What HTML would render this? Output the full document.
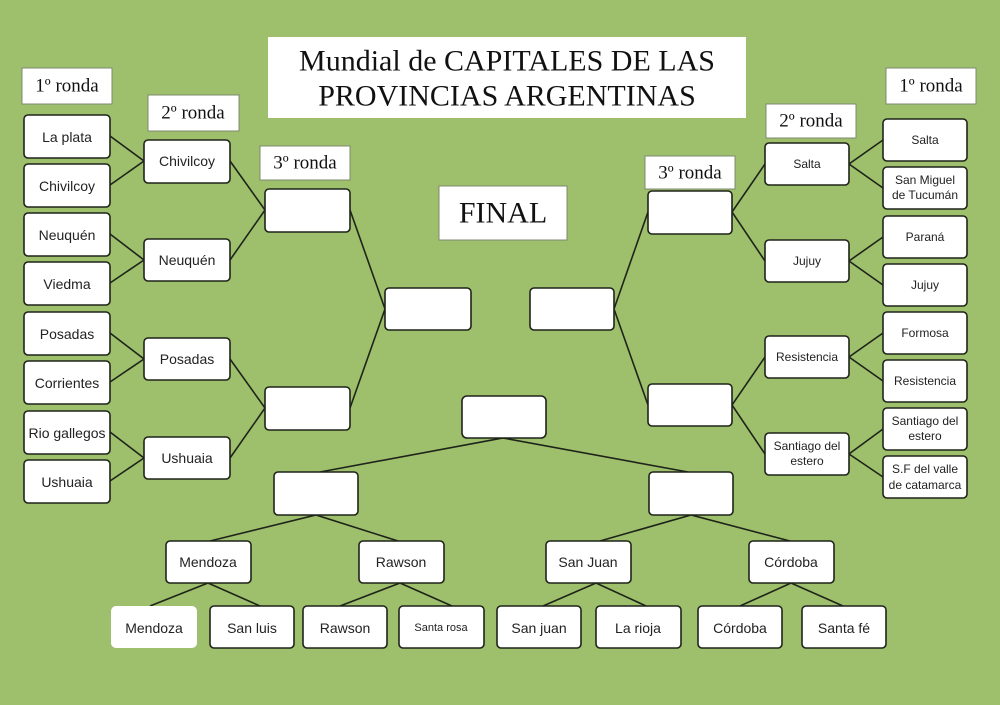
<!DOCTYPE html>
<html><head><meta charset="utf-8"><style>
html,body{margin:0;padding:0;background:#9ebf6b;}
svg{display:block}
.b{fill:#fff;stroke:#1e241a;stroke-width:1.6}
.h{fill:#fff;stroke:#7c8a6e;stroke-width:1}
.l{stroke:#1e241a;stroke-width:1.6;fill:none}
.t{font-family:"Liberation Sans",sans-serif;font-size:14px;fill:#222;text-anchor:middle;dominant-baseline:central}
.s{font-size:12px}
.r{font-family:"Liberation Serif",serif;font-size:19px;fill:#111;text-anchor:middle;dominant-baseline:central}
</style></head><body>
<svg width="1000" height="705" xmlns="http://www.w3.org/2000/svg">
<rect width="1000" height="705" fill="#9ebf6b"/>
<!-- connectors -->
<g class="l">
<path d="M110 136L144 161L110 185M110 234L144 260L110 283M110 333L144 359L110 382M110 432L144 458L110 481"/>
<path d="M230 161L265 210L230 260M230 359L265 408L230 458M350 210L385 309L350 408"/>
<path d="M883 140L849 164L883 188M883 237L849 261L883 285M883 333L849 357L883 381M883 429L849 454L883 477"/>
<path d="M765 164L732 212L765 261M765 357L732 405L765 454M648 212L614 309L648 405"/>
<path d="M320 472L503 438L688 472"/>
<path d="M210 541L316 515L398 541M600 541L691 515L790 541"/>
<path d="M150 606L208 583L260 606M340 606L400 583L452 606M543 606L596 583L646 606M740 606L791 583L843 606"/>
</g>
<!-- title -->
<rect x="268" y="37" width="478" height="81" fill="#fff"/>
<text class="r" x="507" y="61" style="font-size:30px">Mundial de CAPITALES DE LAS</text>
<text class="r" x="507" y="96" style="font-size:30px">PROVINCIAS ARGENTINAS</text>
<rect class="h" x="439" y="186" width="128" height="54"/>
<text class="r" x="503" y="213" style="font-size:30px">FINAL</text>
<!-- headers -->
<rect class="h" x="22" y="68" width="90" height="36"/><text class="r" x="67" y="86">1º ronda</text>
<rect class="h" x="148" y="95" width="91" height="36"/><text class="r" x="193" y="113">2º ronda</text>
<rect class="h" x="260" y="146" width="90" height="34"/><text class="r" x="305" y="163">3º ronda</text>
<rect class="h" x="886" y="68" width="90" height="36"/><text class="r" x="931" y="86">1º ronda</text>
<rect class="h" x="766" y="104" width="90" height="34"/><text class="r" x="811" y="121">2º ronda</text>
<rect class="h" x="645" y="156" width="90" height="33"/><text class="r" x="690" y="173">3º ronda</text>
<!-- left r1 -->
<g>
<rect class="b" x="24" y="115" width="86" height="43" rx="4"/><text class="t" x="67" y="137">La plata</text>
<rect class="b" x="24" y="164" width="86" height="43" rx="4"/><text class="t" x="67" y="186">Chivilcoy</text>
<rect class="b" x="24" y="213" width="86" height="43" rx="4"/><text class="t" x="67" y="235">Neuquén</text>
<rect class="b" x="24" y="262" width="86" height="43" rx="4"/><text class="t" x="67" y="284">Viedma</text>
<rect class="b" x="24" y="312" width="86" height="43" rx="4"/><text class="t" x="67" y="334">Posadas</text>
<rect class="b" x="24" y="361" width="86" height="43" rx="4"/><text class="t" x="67" y="383">Corrientes</text>
<rect class="b" x="24" y="411" width="86" height="43" rx="4"/><text class="t" x="67" y="433">Rio gallegos</text>
<rect class="b" x="24" y="460" width="86" height="43" rx="4"/><text class="t" x="67" y="482">Ushuaia</text>
</g>
<!-- left r2 -->
<rect class="b" x="144" y="140" width="86" height="43" rx="4"/><text class="t" x="187" y="161">Chivilcoy</text>
<rect class="b" x="144" y="239" width="86" height="42" rx="4"/><text class="t" x="187" y="260">Neuquén</text>
<rect class="b" x="144" y="338" width="86" height="42" rx="4"/><text class="t" x="187" y="359">Posadas</text>
<rect class="b" x="144" y="437" width="86" height="42" rx="4"/><text class="t" x="187" y="458">Ushuaia</text>
<!-- left r3, semis -->
<rect class="b" x="265" y="189" width="85" height="43" rx="4"/>
<rect class="b" x="265" y="387" width="85" height="43" rx="4"/>
<rect class="b" x="385" y="288" width="86" height="42" rx="4"/>
<rect class="b" x="530" y="288" width="84" height="42" rx="4"/>
<!-- right r3 -->
<rect class="b" x="648" y="191" width="84" height="43" rx="4"/>
<rect class="b" x="648" y="384" width="84" height="42" rx="4"/>
<!-- right r2 -->
<rect class="b" x="765" y="143" width="84" height="42" rx="4"/><text class="t s" x="807" y="164">Salta</text>
<rect class="b" x="765" y="240" width="84" height="42" rx="4"/><text class="t s" x="807" y="261">Jujuy</text>
<rect class="b" x="765" y="336" width="84" height="42" rx="4"/><text class="t s" x="807" y="357">Resistencia</text>
<rect class="b" x="765" y="433" width="84" height="42" rx="4"/><text class="t s" x="807" y="446">Santiago del</text><text class="t s" x="807" y="461">estero</text>
<!-- right r1 -->
<rect class="b" x="883" y="119" width="84" height="42" rx="4"/><text class="t s" x="925" y="140">Salta</text>
<rect class="b" x="883" y="167" width="84" height="42" rx="4"/><text class="t s" x="925" y="180">San Miguel</text><text class="t s" x="925" y="195">de Tucumán</text>
<rect class="b" x="883" y="216" width="84" height="42" rx="4"/><text class="t s" x="925" y="237">Paraná</text>
<rect class="b" x="883" y="264" width="84" height="42" rx="4"/><text class="t s" x="925" y="285">Jujuy</text>
<rect class="b" x="883" y="312" width="84" height="42" rx="4"/><text class="t s" x="925" y="333">Formosa</text>
<rect class="b" x="883" y="360" width="84" height="42" rx="4"/><text class="t s" x="925" y="381">Resistencia</text>
<rect class="b" x="883" y="408" width="84" height="42" rx="4"/><text class="t s" x="925" y="421">Santiago del</text><text class="t s" x="925" y="436">estero</text>
<rect class="b" x="883" y="456" width="84" height="42" rx="4"/><text class="t s" x="925" y="469">S.F del valle</text><text class="t s" x="925" y="485">de catamarca</text>
<!-- bottom -->
<rect class="b" x="462" y="396" width="84" height="42" rx="5"/>
<rect class="b" x="274" y="472" width="84" height="43" rx="4"/>
<rect class="b" x="649" y="472" width="84" height="43" rx="4"/>
<rect class="b" x="166" y="541" width="85" height="42" rx="4"/><text class="t" x="208" y="562">Mendoza</text>
<rect class="b" x="359" y="541" width="85" height="42" rx="4"/><text class="t" x="401" y="562">Rawson</text>
<rect class="b" x="546" y="541" width="85" height="42" rx="4"/><text class="t" x="588" y="562">San Juan</text>
<rect class="b" x="749" y="541" width="85" height="42" rx="4"/><text class="t" x="791" y="562">Córdoba</text>
<rect x="111" y="606" width="86" height="42" rx="5" fill="#fff"/><text class="t" x="154" y="628">Mendoza</text>
<rect class="b" x="210" y="606" width="84" height="42" rx="4"/><text class="t" x="252" y="628">San luis</text>
<rect class="b" x="303" y="606" width="84" height="42" rx="4"/><text class="t" x="345" y="628">Rawson</text>
<rect class="b" x="399" y="606" width="85" height="42" rx="4"/><text class="t s" x="441" y="628" style="font-size:11px">Santa rosa</text>
<rect class="b" x="497" y="606" width="84" height="42" rx="4"/><text class="t" x="539" y="628">San juan</text>
<rect class="b" x="596" y="606" width="85" height="42" rx="4"/><text class="t" x="638" y="628">La rioja</text>
<rect class="b" x="698" y="606" width="84" height="42" rx="4"/><text class="t" x="740" y="628">Córdoba</text>
<rect class="b" x="802" y="606" width="84" height="42" rx="4"/><text class="t" x="844" y="628">Santa fé</text>
</svg>
</body></html>
